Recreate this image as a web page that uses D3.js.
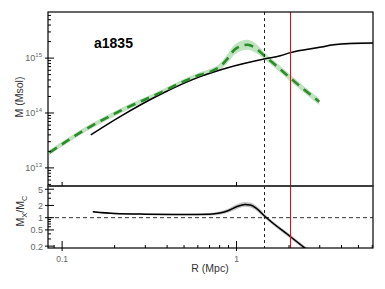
<!DOCTYPE html>
<html>
<head>
<meta charset="utf-8">
<script src="https://cdn.jsdelivr.net/npm/d3@7"></script>
<style>
  body { margin: 0; background: #fff; }
  text { font-family: "Liberation Sans", Arial, sans-serif; }
</style>
</head>
<body>
<svg id="chart" width="385" height="289"></svg>
<script>
// cluster name
var clusterName = "a1835";

// M_X (gas / hydrostatic) profile, green dashed
var gasR   = [0.0845, 0.1445, 0.215, 0.377, 0.475, 0.619, 0.72, 0.8, 0.881, 0.983, 1.156, 1.31, 1.46, 1.67, 2.04, 2.98];
var gasM   = [1.9e13, 5.6e13, 1.09e14, 2.45e14, 3.5e14, 4.96e14, 5.8e14, 6.9e14, 9.5e14, 1.46e15, 1.75e15, 1.46e15, 1.07e15, 7.5e14, 4.3e14, 1.6e14];
var gasErr = [0.045, 0.045, 0.045, 0.045, 0.045, 0.045, 0.05, 0.06, 0.08, 0.09, 0.09, 0.08, 0.06, 0.06, 0.06, 0.06];

// M_C profile, black solid
var cR   = [0.146, 0.215, 0.377, 0.619, 0.881, 1.46, 1.78, 2.04, 3.0, 3.6, 4.5, 6.06];
var cM   = [4.0e13, 8.6e13, 2.29e14, 4.6e14, 6.6e14, 9.7e14, 1.1e15, 1.26e15, 1.57e15, 1.75e15, 1.85e15, 1.88e15];
var cErr = [0.005, 0.005, 0.005, 0.005, 0.005, 0.008, 0.01, 0.012, 0.018, 0.02, 0.02, 0.02];

// ratio M_X / M_C, lower panel
var ratioR   = [0.15, 0.2, 0.3, 0.5, 0.7, 0.8, 0.9, 1.0, 1.12, 1.2, 1.3, 1.447, 2.04, 2.6];
var ratioV   = [1.4, 1.27, 1.22, 1.2, 1.22, 1.3, 1.5, 1.85, 2.12, 2.05, 1.7, 1.1, 0.34, 0.15];
var ratioErr = [0.02, 0.02, 0.02, 0.02, 0.03, 0.04, 0.05, 0.06, 0.06, 0.06, 0.06, 0.05, 0.05, 0.05];

// reference radii
var rDashed = 1.447;
var rRed = 2.04;

// tick values
var xMajor = [0.1, 1];
var xMinor = [0.09, 0.2, 0.3, 0.4, 0.5, 0.6, 0.7, 0.8, 0.9, 2, 3, 4, 5, 6];
var yTopMajor = [1e13, 1e14, 1e15];
var yTopExp = [13, 14, 15];
var yBotMajor = [0.2, 0.5, 1, 2, 5];
var yBotLabels = ["0.2", "0.5", "1", "2", "5"];
var yBotMinor = [0.3, 0.4, 0.6, 0.7, 0.8, 0.9, 3, 4];

var L = 48, R = 373, T = 12, MID = 186, B = 248;

var svg = d3.select("#chart");

var x = d3.scaleLog().domain([0.083, 6.06]).range([L, R]);
var yTop = d3.scaleLog().domain([Math.pow(10, 12.67), Math.pow(10, 15.84)]).range([MID, T]);
var yBot = d3.scaleLog().domain([0.18, 6]).range([B, MID]);

var defs = svg.append("defs");
defs.append("clipPath").attr("id", "clipTop")
  .append("rect").attr("x", L).attr("y", T).attr("width", R - L).attr("height", MID - T);
defs.append("clipPath").attr("id", "clipBot")
  .append("rect").attr("x", L).attr("y", MID).attr("width", R - L).attr("height", B - MID);

function zip(a, b, c) {
  return a.map(function(v, i) { return { r: v, m: b[i], e: c ? c[i] : 0 }; });
}
var gasData = zip(gasR, gasM, gasErr);
var cData = zip(cR, cM, cErr);
var ratioData = zip(ratioR, ratioV, ratioErr);

var gTop = svg.append("g").attr("clip-path", "url(#clipTop)");
var gBot = svg.append("g").attr("clip-path", "url(#clipBot)");

function band(ys) {
  return d3.area().curve(d3.curveMonotoneX)
    .x(function(d) { return x(d.r); })
    .y0(function(d) { return ys(d.m / Math.pow(10, d.e)); })
    .y1(function(d) { return ys(d.m * Math.pow(10, d.e)); });
}
function line(ys) {
  return d3.line().curve(d3.curveMonotoneX)
    .x(function(d) { return x(d.r); })
    .y(function(d) { return ys(d.m); });
}

// upper panel bands + lines
gTop.append("path").datum(cData).attr("d", band(yTop))
  .attr("fill", "#c8c8c8").attr("opacity", 0.8);
gTop.append("path").datum(gasData).attr("d", band(yTop))
  .attr("fill", "#bfe2bf");
gTop.append("path").datum(cData).attr("d", line(yTop))
  .attr("fill", "none").attr("stroke", "#000").attr("stroke-width", 1.5);
gTop.append("path").datum(gasData).attr("d", line(yTop))
  .attr("fill", "none").attr("stroke", "#2a8c2a").attr("stroke-width", 2.6)
  .attr("stroke-dasharray", "9,6");

// lower panel
gBot.append("path").datum(ratioData).attr("d", band(yBot))
  .attr("fill", "#c4c4c4");
gBot.append("line")
  .attr("x1", L).attr("x2", R).attr("y1", yBot(1)).attr("y2", yBot(1))
  .attr("stroke", "#333").attr("stroke-width", 1).attr("stroke-dasharray", "4,3");
gBot.append("path").datum(ratioData).attr("d", line(yBot))
  .attr("fill", "none").attr("stroke", "#000").attr("stroke-width", 1.5);

// vertical reference lines
svg.append("line")
  .attr("x1", x(rDashed)).attr("x2", x(rDashed)).attr("y1", T).attr("y2", B)
  .attr("stroke", "#222").attr("stroke-width", 1).attr("stroke-dasharray", "3,3");
svg.append("line")
  .attr("x1", x(rRed)).attr("x2", x(rRed)).attr("y1", T).attr("y2", B)
  .attr("stroke", "#f00").attr("stroke-width", 1);

// frames
svg.append("rect").attr("x", L).attr("y", T).attr("width", R - L).attr("height", MID - T)
  .attr("fill", "none").attr("stroke", "#000").attr("stroke-width", 1.2);
svg.append("rect").attr("x", L).attr("y", MID).attr("width", R - L).attr("height", B - MID)
  .attr("fill", "none").attr("stroke", "#000").attr("stroke-width", 1.2);
svg.append("line").attr("x1", L).attr("x2", R).attr("y1", MID).attr("y2", MID)
  .attr("stroke", "#444").attr("stroke-width", 1.6);

// ticks
var ticks = svg.append("g").attr("stroke", "#000").attr("stroke-width", 1);
// left, upper
var topMinor = [];
[12, 13, 14, 15].forEach(function(e) {
  for (var k = 2; k <= 9; k++) topMinor.push(k * Math.pow(10, e));
});
topMinor = topMinor.filter(function(v) { return v > yTop.domain()[0] && v < yTop.domain()[1]; });
ticks.selectAll(".tmin").data(topMinor).enter().append("line")
  .attr("x1", L).attr("x2", L + 3)
  .attr("y1", function(d) { return yTop(d); }).attr("y2", function(d) { return yTop(d); });
ticks.selectAll(".tmaj").data(yTopMajor).enter().append("line")
  .attr("x1", L - 3).attr("x2", L + 6)
  .attr("y1", function(d) { return yTop(d); }).attr("y2", function(d) { return yTop(d); });
// left, lower
ticks.selectAll(".bmin").data(yBotMinor).enter().append("line")
  .attr("x1", L).attr("x2", L + 3)
  .attr("y1", function(d) { return yBot(d); }).attr("y2", function(d) { return yBot(d); });
ticks.selectAll(".bmaj").data(yBotMajor).enter().append("line")
  .attr("x1", L - 3).attr("x2", L + 6)
  .attr("y1", function(d) { return yBot(d); }).attr("y2", function(d) { return yBot(d); });
// bottom
ticks.selectAll(".xmin").data(xMinor).enter().append("line")
  .attr("x1", function(d) { return x(d); }).attr("x2", function(d) { return x(d); })
  .attr("y1", B).attr("y2", B - 3);
ticks.selectAll(".xmaj").data(xMajor).enter().append("line")
  .attr("x1", function(d) { return x(d); }).attr("x2", function(d) { return x(d); })
  .attr("y1", B + 3).attr("y2", B - 7);
// bottom of upper panel
ticks.selectAll(".xmaj2").data(xMajor).enter().append("line")
  .attr("x1", function(d) { return x(d); }).attr("x2", function(d) { return x(d); })
  .attr("y1", MID).attr("y2", MID - 4);

// tick labels
var lab = svg.append("g").attr("fill", "#666").attr("font-size", 9);
yTopMajor.forEach(function(v, i) {
  var t = lab.append("text").attr("x", L - 6).attr("y", yTop(v) + 3).attr("text-anchor", "end");
  t.append("tspan").text("10");
  t.append("tspan").attr("dy", -4).attr("font-size", 6).text(yTopExp[i]);
});
yBotMajor.forEach(function(v, i) {
  lab.append("text").attr("x", L - 5).attr("y", yBot(v) + 3.5).attr("text-anchor", "end")
    .text(yBotLabels[i]);
});
xMajor.forEach(function(v) {
  lab.append("text").attr("x", x(v)).attr("y", 262).attr("text-anchor", "middle")
    .attr("font-size", 8.5).text(v);
});

// axis titles
svg.append("text").attr("transform", "translate(23," + 97 + ") rotate(-90)")
  .attr("text-anchor", "middle").attr("font-size", 10.5).attr("fill", "#333")
  .text("M  (Msol)");
var rt = svg.append("text").attr("transform", "translate(24,211) rotate(-90)")
  .attr("text-anchor", "middle").attr("font-size", 10.5).attr("fill", "#333");
rt.append("tspan").text("M");
rt.append("tspan").attr("font-size", 7.5).attr("dy", 3).text("X");
rt.append("tspan").attr("dy", -3).text("/M");
rt.append("tspan").attr("font-size", 7.5).attr("dy", 3).text("C");
svg.append("text").attr("x", 210).attr("y", 272).attr("text-anchor", "middle")
  .attr("font-size", 10.5).attr("fill", "#333").text("R  (Mpc)");

// cluster label
svg.append("text").attr("x", 94).attr("y", 47.5).attr("font-size", 14)
  .attr("font-weight", "bold").attr("fill", "#000").text(clusterName);
</script>
</body>
</html>
